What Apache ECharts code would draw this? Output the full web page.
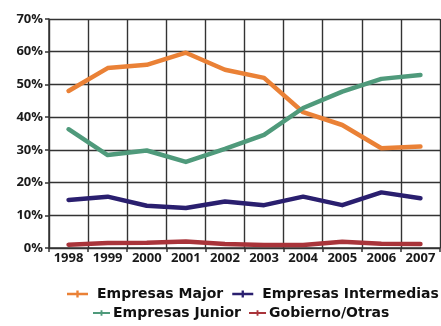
<!DOCTYPE html>
<html>
<head>
<meta charset="utf-8">
<script src="https://cdn.jsdelivr.net/npm/echarts@6/dist/echarts.min.js"></script>
<style>
  html, body { margin: 0; padding: 0; background: #ffffff; }
  #chart { width: 441px; height: 326px; }
</style>
</head>
<body>
<div id="chart"></div>
<script>
// Years on the horizontal axis
const years = ['1998', '1999', '2000', '2001', '2002', '2003', '2004', '2005', '2006', '2007'];

// Share of each company group, in percent
const empresasMajor = [48, 55, 56, 59.7, 54.5, 52, 41.5, 37.6, 30.5, 31];
const empresasIntermedias = [14.7, 15.7, 12.9, 12.2, 14.2, 13.1, 15.7, 13.1, 17, 15.2];
const empresasJunior = [36.3, 28.4, 29.8, 26.3, 30.3, 34.6, 42.8, 47.8, 51.7, 52.9];
const gobiernoOtras = [1, 1.5, 1.6, 2, 1.2, 0.9, 0.9, 1.9, 1.3, 1.2];

// Y axis range and tick step, in percent
const yMin = 0;
const yMax = 70;
const yStep = 10;

const names = ['Empresas Major', 'Empresas Intermedias', 'Empresas Junior', 'Gobierno/Otras'];
const colors = ['#ea8136', '#2a1f6f', '#4f9a7b', '#a9343a'];
const values = [empresasMajor, empresasIntermedias, empresasJunior, gobiernoOtras];

const font = '"Open Sans", "DejaVu Sans", sans-serif';
const legendFont = '"DejaVu Sans", sans-serif';
const gridColor = '#333333';

// Legend key: a short stroke with a small centred marker
const legendIcon = 'path://M0,4 L8,4 L8,2 L10,2 L10,4 L18,4 L18,6 L10,6 L10,8 L8,8 L8,6 L0,6 Z';

const chart = echarts.init(document.getElementById('chart'), null, { renderer: 'canvas' });

const legendText = (padLeft) => ({
  fontFamily: legendFont,
  fontWeight: 'bold',
  fontSize: 14,
  color: '#111',
  padding: [0, 0, 0, padLeft]
});

chart.setOption({
  animation: false,
  backgroundColor: '#ffffff',
  grid: { left: 49, right: 1, top: 19, bottom: 78, containLabel: false },
  legend: [
    {
      data: [names[0], names[1]],
      left: 67, top: 287, width: 380, padding: 0,
      itemWidth: 21, itemHeight: 8, itemGap: 9,
      icon: legendIcon,
      textStyle: legendText(4)
    },
    {
      data: [names[2], names[3]],
      left: 93, top: 306, width: 350, padding: 0,
      itemWidth: 17, itemHeight: 8, itemGap: 8,
      icon: legendIcon,
      textStyle: legendText(-2)
    }
  ],
  xAxis: {
    type: 'category',
    data: years,
    boundaryGap: true,
    axisLine: { show: true, lineStyle: { color: gridColor, width: 1.5 } },
    axisTick: { show: true, length: 4, alignWithLabel: false, lineStyle: { color: gridColor, width: 1.5 } },
    axisLabel: { fontFamily: font, fontWeight: 'bold', fontSize: 13, color: '#1a1a1a', margin: 4 },
    splitLine: { show: true, lineStyle: { color: gridColor, width: 1.4 } }
  },
  yAxis: {
    type: 'value',
    min: yMin, max: yMax, interval: yStep,
    axisLine: { show: true, lineStyle: { color: gridColor, width: 1.5 } },
    axisTick: { show: true, length: 4, lineStyle: { color: gridColor, width: 1.5 } },
    axisLabel: {
      fontFamily: font, fontWeight: 'bold', fontSize: 13, color: '#1a1a1a', margin: 6,
      formatter: v => v + '%'
    },
    splitLine: { show: true, lineStyle: { color: gridColor, width: 1.4 } }
  },
  series: names.map((n, i) => ({
    name: n,
    type: 'line',
    data: values[i],
    color: colors[i],
    showSymbol: false,
    symbol: 'none',
    lineStyle: { width: 4.5, color: colors[i], cap: 'round', join: 'round' }
  }))
});
</script>
</body>
</html>
